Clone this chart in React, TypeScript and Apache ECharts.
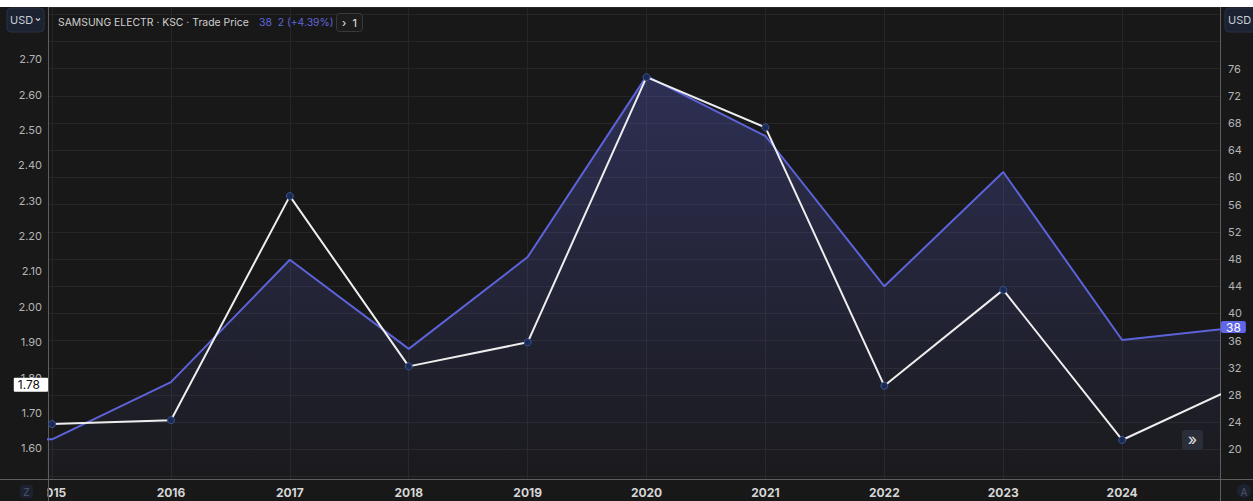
import React, { useEffect, useRef } from "react";
import * as echarts from "echarts";

// Trade price (USD, right axis) by year; 2014 and 2025 sit just outside the visible window
const priceYears = [2014, 2015, 2016, 2017, 2018, 2019, 2020, 2021, 2022, 2023, 2024, 2025];
const priceUSD = [21.5, 21.5, 29.9, 47.9, 34.8, 48.3, 74.9, 66.1, 44.0, 60.8, 36.1, 38];

// Second metric (USD, left axis) by year
const metricYears = [2015, 2016, 2017, 2018, 2019, 2020, 2021, 2022, 2023, 2024, 2025];
const metricUSD = [1.669, 1.68, 2.313, 1.832, 1.9, 2.649, 2.507, 1.777, 2.048, 1.624, 1.78];

const titleText = "SAMSUNG ELECTR · KSC · Trade Price";
const quoteText = "38  2 (+4.39%)";
const currency = "USD";

const BG = "#181818";
const GRID = "#262626";
const AXIS = "#5e5e5e";
const BLUE = "#5c63d8";
const FONT = "Inter, 'Liberation Sans', sans-serif";

export default function App() {
  const ref = useRef<HTMLDivElement>(null);

  useEffect(() => {
    if (!ref.current) return;
    const chart = echarts.init(ref.current, undefined, { renderer: "svg" });
    const priceData = priceYears.map((y, i) => [y, priceUSD[i]]);
    const metricData = metricYears.map((y, i) => [y, metricUSD[i]]);
    const lastPrice = priceUSD[priceUSD.length - 1];
    const lastMetric = metricUSD[metricUSD.length - 1];

    chart.setOption({
      animation: false,
      backgroundColor: BG,
      textStyle: { fontFamily: FONT },
      grid: { left: 48, right: 33, top: 0, bottom: 22, containLabel: false },
      xAxis: {
        type: "value",
        min: 2014.966,
        max: 2024.823,
        minInterval: 1,
        maxInterval: 1,
        splitNumber: 10,
        axisLine: { show: true, lineStyle: { color: AXIS, width: 1 } },
        axisTick: { show: false },
        splitLine: { show: true, lineStyle: { color: GRID, width: 1 } },
        axisLabel: {
          color: "#d6d6d6",
          fontSize: 12,
          fontWeight: "bold",
          fontFamily: FONT,
          margin: 7,
          formatter: (v: number) => (Math.abs(v - Math.round(v)) < 1e-6 ? String(Math.round(v)) : ""),
        },
      },
      yAxis: [
        {
          type: "value",
          position: "left",
          min: 1.5138,
          max: 2.8472,
          minInterval: 0.1,
          maxInterval: 0.1,
          splitNumber: 13,
          axisLine: { show: true, lineStyle: { color: AXIS, width: 1 } },
          axisTick: { show: false },
          splitLine: { show: false },
          axisLabel: {
            color: "#b4b4b4",
            fontSize: 11,
            fontFamily: FONT,
            margin: 6,
            formatter: (v: number) => (v > 1.595 && v < 2.705 ? v.toFixed(2) : ""),
          },
          axisPointer: {
            show: true,
            status: "show",
            value: lastMetric,
            triggerTooltip: false,
            lineStyle: { opacity: 0 },
            label: {
              show: true,
              formatter: () => lastMetric.toFixed(2),
              backgroundColor: "#ffffff",
              color: "#111111",
              fontSize: 12,
              fontFamily: FONT,
              padding: [1, 8, 1, 4],
              borderRadius: 1,
              margin: 0,
            },
          },
        },
        {
          type: "value",
          position: "right",
          min: 15.66,
          max: 85.07,
          minInterval: 4,
          maxInterval: 4,
          splitNumber: 17,
          axisLine: { show: true, lineStyle: { color: AXIS, width: 1 } },
          axisTick: { show: false },
          splitLine: { show: true, lineStyle: { color: GRID, width: 1 } },
          axisLabel: {
            color: "#b4b4b4",
            fontSize: 11,
            fontFamily: FONT,
            margin: 8,
            formatter: (v: number) => {
              const r = Math.round(v);
              return Math.abs(v - r) < 1e-6 && r % 4 === 0 && r >= 20 && r <= 76 ? String(r) : "";
            },
          },
          axisPointer: {
            show: true,
            status: "show",
            value: lastPrice,
            triggerTooltip: false,
            lineStyle: { opacity: 0 },
            label: {
              show: true,
              formatter: () => String(lastPrice),
              backgroundColor: "#5f67e8",
              color: "#ffffff",
              fontSize: 12,
              fontFamily: FONT,
              padding: [0, 5, 0, 5],
              borderRadius: 2,
              margin: 1,
            },
          },
        },
      ],
      series: [
        {
          type: "line",
          name: "Trade Price",
          yAxisIndex: 1,
          data: priceData,
          showSymbol: false,
          symbol: "none",
          clip: true,
          lineStyle: { color: BLUE, width: 2 },
          areaStyle: {
            origin: "start",
            color: new echarts.graphic.LinearGradient(0, 0, 0, 1, [
              { offset: 0, color: "rgba(93,99,214,0.45)" },
              { offset: 1, color: "rgba(93,99,214,0.04)" },
            ]),
          },
          z: 2,
        },
        {
          type: "line",
          name: "Metric",
          yAxisIndex: 0,
          data: metricData,
          symbol: "circle",
          symbolSize: 7,
          showSymbol: true,
          clip: true,
          lineStyle: { color: "#eeeeee", width: 2 },
          itemStyle: { color: "#1a2a52", borderColor: "#3a5596", borderWidth: 1 },
          z: 3,
        },
      ],
      graphic: [
        // hide the left part of the first year label behind the axis panel
        { type: "rect", shape: { x: 0, y: 473, width: 47.5, height: 21 }, style: { fill: BG }, z: 100 },
        { type: "line", shape: { x1: 0, y1: 472.5, x2: 48, y2: 472.5 }, style: { stroke: AXIS, lineWidth: 1 }, z: 101 },
        { type: "line", shape: { x1: 1220, y1: 472.5, x2: 1253, y2: 472.5 }, style: { stroke: AXIS, lineWidth: 1 }, z: 101 },
        { type: "line", shape: { x1: 48.5, y1: 472, x2: 48.5, y2: 494 }, style: { stroke: AXIS, lineWidth: 1 }, z: 101 },
        { type: "line", shape: { x1: 1220.5, y1: 472, x2: 1220.5, y2: 494 }, style: { stroke: AXIS, lineWidth: 1 }, z: 101 },
        // Z button
        { type: "rect", shape: { x: 20, y: 478, width: 13, height: 13, r: 3 }, style: { fill: "#1c2232" }, z: 102 },
        { type: "text", x: 26.5, y: 484.5, style: { text: "Z", fill: "#4f5668", font: `10px ${FONT}`, align: "center", verticalAlign: "middle" }, z: 103 },
        // A button
        { type: "circle", shape: { cx: 1244, cy: 484, r: 7 }, style: { fill: "#1c2232" }, z: 102 },
        { type: "text", x: 1244, y: 484.5, style: { text: "A", fill: "#4f5668", font: `10px ${FONT}`, align: "center", verticalAlign: "middle" }, z: 103 },
        // scroll button
        { type: "rect", shape: { x: 1182, y: 423, width: 21, height: 20, r: 3 }, style: { fill: "#2a2e39" }, z: 102 },
        { type: "text", x: 1192.5, y: 432, style: { text: "»", fill: "#e0e0e0", font: `16px ${FONT}`, align: "center", verticalAlign: "middle" }, z: 103 },
        // left currency box
        { type: "rect", shape: { x: 7, y: 1, width: 37, height: 24, r: 4 }, style: { fill: "#1b2232", stroke: "#2a3243", lineWidth: 1 }, z: 102 },
        { type: "text", x: 10, y: 13, style: { text: currency, fill: "#c9cdd6", font: `11px ${FONT}`, verticalAlign: "middle" }, z: 103 },
        { type: "polyline", shape: { points: [[36, 11.5], [38, 13.5], [40, 11.5]] }, style: { stroke: "#c9cdd6", lineWidth: 1.2, fill: "none" }, z: 103 },
        // right currency box
        { type: "rect", shape: { x: 1225, y: 1, width: 32, height: 24, r: 4 }, style: { fill: "#1b2232", stroke: "#2a3243", lineWidth: 1 }, z: 102 },
        { type: "text", x: 1228, y: 13, style: { text: currency, fill: "#c9cdd6", font: `11px ${FONT}`, verticalAlign: "middle" }, z: 103 },
        // legend / title line
        { type: "text", x: 58, y: 15, style: { text: titleText, fill: "#cfcfcf", font: `10.4px ${FONT}`, verticalAlign: "middle" }, z: 103 },
        { type: "text", x: 259, y: 15, style: { text: quoteText, fill: "#5f66dc", font: `10.4px ${FONT}`, verticalAlign: "middle" }, z: 103 },
        { type: "rect", shape: { x: 336.5, y: 6.5, width: 26, height: 18, r: 3 }, style: { fill: "#1c1c1c", stroke: "#3a3a3a", lineWidth: 1 }, z: 102 },
        { type: "text", x: 349.5, y: 15.5, style: { text: "›  1", fill: "#e6e6e6", font: `11px ${FONT}`, align: "center", verticalAlign: "middle" }, z: 103 },
      ],
    });

    return () => chart.dispose();
  }, []);

  return (
    <div
      ref={ref}
      style={{ position: "absolute", left: 0, top: 7, width: 1253, height: 494 }}
    />
  );
}
